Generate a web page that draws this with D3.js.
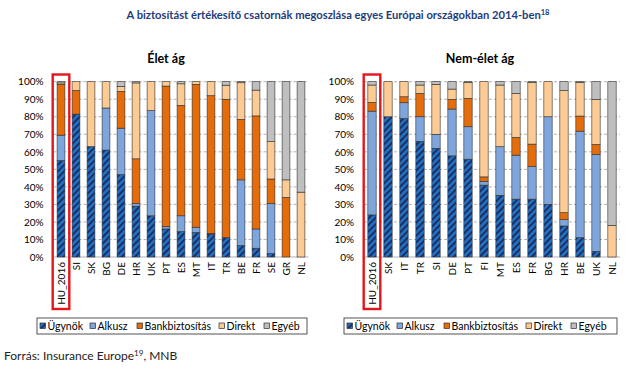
<!DOCTYPE html>
<html><head><meta charset="utf-8">
<script src="https://cdn.jsdelivr.net/npm/d3@7"></script>
<style>
html,body{margin:0;padding:0;background:#fff;}
svg{display:block;font-family:Lato,"Open Sans",sans-serif;}
</style></head>
<body><svg id="c" width="640" height="378"></svg>
<script>
const seriesKeys = ["Ügynök","Alkusz","Bankbiztosítás","Direkt","Egyéb"];
const yTicks = [0,10,20,30,40,50,60,70,80,90,100];

// Élet ág
const lifeCats = ["HU_2016","SI","SK","BG","DE","HR","UK","PT","ES","MT","IT","TR","BE","FR","SE","GR","NL"];
const lifeUgynok = [55, 81.5, 63, 61, 47, 29, 23.5, 16, 14.5, 14, 13, 11, 6.5, 5, 2, 0, 0];
const lifeAlkusz = [14.5, 0, 0, 24, 26.5, 1.5, 60, 1.5, 9, 3, 0.5, 0, 37.5, 11, 28.5, 0, 0];
const lifeBank   = [29, 13.5, 0, 0, 21, 25.5, 0, 80, 63, 81.5, 78.5, 79, 34.5, 64.5, 14, 34, 0];
const lifeDirekt = [0.8, 5, 37, 15, 2.8, 43.3, 16.5, 2.5, 12.3, 1.5, 8, 8, 20.9, 14.7, 21.3, 10, 37];
const lifeEgyeb  = [0.7, 0, 0, 0, 2.7, 0.7, 0, 0, 1.2, 0, 0, 2, 0.6, 4.8, 34.2, 56, 63];

// Nem-élet ág
const nonLifeCats = ["HU_2016","SK","IT","TR","SI","DE","PT","FI","MT","ES","FR","BG","HR","BE","UK","NL"];
const nlUgynok = [24, 80, 79, 66, 62, 57.7, 55.8, 41, 35.2, 33, 33, 30, 17.7, 11, 3.2, 0];
const nlAlkusz = [59.2, 0, 9, 14, 8, 26.7, 18.5, 2.2, 27.7, 25.1, 18.6, 50, 3.6, 60.8, 55.3, 0];
const nlBank   = [5, 0, 3.4, 13.3, 0, 5.5, 16.2, 2.5, 0, 10.1, 12.8, 0, 4, 8.6, 5.7, 0];
const nlDirekt = [9.9, 20, 8.6, 4.8, 28.5, 5.9, 9.1, 54.3, 35.2, 25.1, 35.2, 20, 69.6, 19.2, 25.7, 18];
const nlEgyeb  = [1.9, 0, 0, 1.9, 1.5, 4.2, 0.4, 0, 1.9, 6.7, 0.4, 0, 5.1, 0.4, 10.1, 82];

const colors = {"Ügynök":"url(#hatch)","Alkusz":"#7EA6DC","Bankbiztosítás":"#E46C0A","Direkt":"#FCCB93","Egyéb":"#BFBFBF"};

const svg = d3.select("#c");
const defs = svg.append("defs");
const pat = defs.append("pattern").attr("id","hatch").attr("patternUnits","userSpaceOnUse")
  .attr("width",4.6).attr("height",4.6).attr("patternTransform","rotate(45)");
pat.append("rect").attr("width",4.6).attr("height",4.6).attr("fill","#1F72C8");
pat.append("line").attr("x1",1).attr("y1",0).attr("x2",1).attr("y2",4.6).attr("stroke","#1D2B5C").attr("stroke-width",1.9);

svg.append("text").attr("x",338).attr("y",19).attr("text-anchor","middle")
  .attr("font-weight","bold").attr("font-size",11.2).attr("fill","#1F3C7A")
  .text("A biztosítást értékesítő csatornák megoszlása egyes Európai országokban 2014-ben")
  .append("tspan").attr("dy",-4).attr("font-size",7.5).text("18");

const yScale = d3.scaleLinear().domain([0,100]).range([257,81.7]);

function panel(cats, vals, x0, x1, title, titleX, legX, legW) {
  const rows = cats.map((c,i)=>{ const r={cat:c}; seriesKeys.forEach((k,j)=>r[k]=vals[j][i]); return r; });
  const stack = d3.stack().keys(seriesKeys)(rows);
  const x = d3.scaleBand().domain(cats).range([x0,x1]).paddingInner(0.48).paddingOuter(0.24);
  const g = svg.append("g");

  g.append("text").attr("x",titleX).attr("y",63).attr("text-anchor","middle")
    .attr("font-weight","bold").attr("font-size",12.5).attr("fill","#000").text(title);

  g.selectAll("line.grid").data(yTicks).join("line")
    .attr("x1",x0).attr("x2",x1).attr("y1",d=>yScale(d)).attr("y2",d=>yScale(d))
    .attr("stroke","#A0A0A0").attr("stroke-width",0.8)
    .attr("stroke-dasharray",d=>d===0?null:"3,2");

  const ya = g.append("g").attr("transform",`translate(${x0},0)`)
    .call(d3.axisLeft(yScale).tickValues(yTicks).tickFormat(d=>d+"%").tickSize(0).tickPadding(10));
  ya.select(".domain").remove();
  ya.selectAll("text").attr("font-size",10).attr("fill","#000").attr("font-family","Lato, sans-serif");

  g.append("g").selectAll("g").data(stack).join("g")
    .attr("fill",d=>colors[d.key])
    .selectAll("rect").data(d=>d.filter(p=>p[1]-p[0]>0)).join("rect")
    .attr("x",d=>x(d.data.cat)).attr("width",x.bandwidth())
    .attr("y",d=>yScale(d[1])).attr("height",d=>yScale(d[0])-yScale(d[1]))
    .attr("stroke","#303030").attr("stroke-width",0.6);

  const xa = g.append("g").attr("transform","translate(0,257)")
    .call(d3.axisBottom(x).tickSize(0).tickPadding(0));
  xa.select(".domain").remove();
  xa.selectAll("text").attr("font-size",10).attr("fill","#000").attr("font-family","Lato, sans-serif")
    .attr("transform","rotate(-90)").attr("text-anchor","end").attr("dy","0.35em").attr("x",-5).attr("y",0);

  const c0 = x(cats[0]) + x.bandwidth()/2;
  g.append("rect").attr("x",c0-8.3).attr("y",74.5).attr("width",16.6).attr("height",234.5)
    .attr("fill","none").attr("stroke","#E3161B").attr("stroke-width",2.4);

  // legend
  const lg = g.append("g").attr("transform",`translate(${legX},318)`);
  lg.append("rect").attr("width",legW).attr("height",16).attr("fill","#fff").attr("stroke","#404040").attr("stroke-width",0.9);
  const offs = [3,53,100,182,227];
  seriesKeys.forEach((k,i)=>{
    lg.append("rect").attr("x",offs[i]).attr("y",5).attr("width",5.5).attr("height",5.5)
      .attr("fill",colors[k]).attr("stroke","#303030").attr("stroke-width",0.7);
    lg.append("text").attr("x",offs[i]+7.5).attr("y",12).attr("font-size",10.5).attr("fill","#000").text(k);
  });
}

panel(lifeCats, [lifeUgynok,lifeAlkusz,lifeBank,lifeDirekt,lifeEgyeb], 53.5, 308.5, "Élet ág", 166, 37, 270);
panel(nonLifeCats, [nlUgynok,nlAlkusz,nlBank,nlDirekt,nlEgyeb], 364, 620, "Nem-élet ág", 480, 344, 273);

svg.append("text").attr("x",4).attr("y",360).attr("font-size",12).attr("fill","#222")
  .text("Forrás: Insurance Europe")
  .append("tspan").attr("dy",-4).attr("font-size",8).text("19")
  .select(function(){return this.parentNode;})
  .append("tspan").attr("dy",4).attr("font-size",12).text(", MNB");
</script></body></html>
